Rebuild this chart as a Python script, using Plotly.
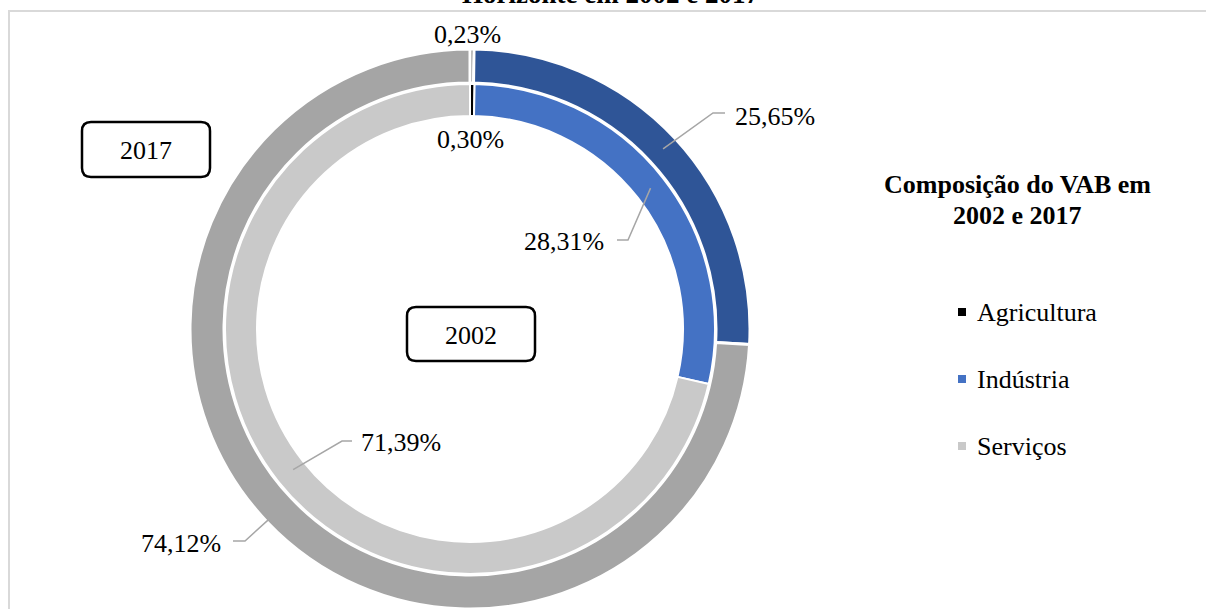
import plotly.graph_objects as go

# Figure size in pixels
W, H = 1206, 609

# ---- data ----
sectors = ["Agricultura", "Indústria", "Serviços"]
share_2002 = [0.30, 28.31, 71.39]   # inner ring
share_2017 = [0.23, 25.65, 74.12]   # outer ring

colors_2002 = ["#000000", "#4472C4", "#C9C9C9"]
colors_2017 = ["#000000", "#2F5597", "#A5A5A5"]

FONT = "Liberation Serif, Times New Roman, serif"
LABEL_SIZE = 26


def px(x):
    """pixel x -> paper x"""
    return x / W


def py(y):
    """pixel y (from top) -> paper y"""
    return 1 - y / H


# ring geometry (pixels)
CX, CY = 470, 329
R_OUT, HOLE_OUT = 280, 246
R_IN, HOLE_IN = 245, 213


def fmt(v):
    return f"{v:.2f}%".replace(".", ",")


fig = go.Figure()

fig.add_trace(go.Pie(
    labels=sectors, values=share_2017, name="2017",
    sort=False, direction="clockwise", rotation=0,
    hole=HOLE_OUT / R_OUT,
    marker=dict(colors=colors_2017, line=dict(color="white", width=3)),
    textinfo="none", hoverinfo="label+percent",
    domain=dict(x=[px(CX - R_OUT), px(CX + R_OUT)],
                y=[py(CY + R_OUT), py(CY - R_OUT)]),
    showlegend=False,
))

fig.add_trace(go.Pie(
    labels=sectors, values=share_2002, name="2002",
    sort=False, direction="clockwise", rotation=0,
    hole=HOLE_IN / R_IN,
    marker=dict(colors=colors_2002, line=dict(color="white", width=2)),
    textinfo="none", hoverinfo="label+percent",
    domain=dict(x=[px(CX - R_IN), px(CX + R_IN)],
                y=[py(CY + R_IN), py(CY - R_IN)]),
    showlegend=False,
))

shapes = []
annotations = []


def mid_point(shares, i, r):
    """point at radius r on the middle of slice i (clockwise from 12 o'clock)"""
    import math
    total = sum(shares)
    start = sum(shares[:i])
    ang = math.radians(360 * (start + shares[i] / 2) / total)
    return CX + r * math.sin(ang), CY - r * math.cos(ang)


# data label placement: (series, slice index) -> leader/text layout in pixels
series = {"2017": share_2017, "2002": share_2002}
label_layout = [
    ("2017", 0, dict(text=(467, 34), anchor="center")),
    ("2002", 0, dict(text=(470, 139), anchor="center")),
    ("2017", 1, dict(r=264, elbow=(713, 113), end=(725, 113), text=(733, 116), anchor="left")),
    ("2002", 1, dict(r=229, elbow=(628, 240), end=(617, 240), text=(606, 242), anchor="right")),
    ("2002", 2, dict(r=226, elbow=(342, 441), end=(352, 441), text=(359, 442), anchor="left")),
    ("2017", 2, dict(r=277, elbow=(245, 541), end=(233, 541), text=(223, 543), anchor="right")),
]

for key, i, lay in label_layout:
    vals = series[key]
    if "r" in lay:
        ax, ay = mid_point(vals, i, lay["r"])
        ex, ey = lay["elbow"]
        hx, hy = lay["end"]
        shapes.append(dict(
            type="path", xref="paper", yref="paper",
            path=f"M {px(ax)},{py(ay)} L {px(ex)},{py(ey)} L {px(hx)},{py(hy)}",
            line=dict(color="#A6A6A6", width=1.5),
        ))
    tx, ty = lay["text"]
    annotations.append(dict(
        x=px(tx), y=py(ty), xref="paper", yref="paper",
        text=fmt(vals[i]), showarrow=False,
        xanchor=lay["anchor"], yanchor="middle",
        font=dict(family=FONT, size=LABEL_SIZE, color="black"),
    ))


def rounded_box(x0, y0, x1, y1, r):
    p = [
        f"M {px(x0 + r)},{py(y0)}",
        f"L {px(x1 - r)},{py(y0)}",
        f"Q {px(x1)},{py(y0)} {px(x1)},{py(y0 + r)}",
        f"L {px(x1)},{py(y1 - r)}",
        f"Q {px(x1)},{py(y1)} {px(x1 - r)},{py(y1)}",
        f"L {px(x0 + r)},{py(y1)}",
        f"Q {px(x0)},{py(y1)} {px(x0)},{py(y1 - r)}",
        f"L {px(x0)},{py(y0 + r)}",
        f"Q {px(x0)},{py(y0)} {px(x0 + r)},{py(y0)}",
        "Z",
    ]
    return dict(type="path", xref="paper", yref="paper", path=" ".join(p),
                line=dict(color="black", width=2.5), fillcolor="white")


# year tags
for label, (x0, y0, x1, y1) in [("2017", (82, 122, 210, 177)),
                                ("2002", (407, 307, 535, 361))]:
    shapes.append(rounded_box(x0, y0, x1, y1, 9))
    annotations.append(dict(
        x=px((x0 + x1) / 2), y=py((y0 + y1) / 2 + 1), xref="paper", yref="paper",
        text=label, showarrow=False, xanchor="center", yanchor="middle",
        font=dict(family=FONT, size=LABEL_SIZE, color="black"),
    ))

# chart-area frame: only the left and top edges fall inside the page
shapes.append(dict(type="path", xref="paper", yref="paper",
                   path=f"M {px(9)},{py(620)} L {px(9)},{py(11)} L {px(1215)},{py(11)}",
                   line=dict(color="#D9D9D9", width=2), layer="below"))

# chart title (last line)
annotations.append(dict(
    x=px(610), y=py(-6), xref="paper", yref="paper",
    text="<b>Horizonte em 2002 e 2017</b>", showarrow=False,
    xanchor="center", yanchor="middle",
    font=dict(family=FONT, size=27, color="black"),
))

# legend block
annotations.append(dict(
    x=px(1017), y=py(185), xref="paper", yref="paper",
    text="<b>Composição do VAB em</b>", showarrow=False,
    xanchor="center", yanchor="middle",
    font=dict(family=FONT, size=LABEL_SIZE, color="black"),
))
annotations.append(dict(
    x=px(1017), y=py(215), xref="paper", yref="paper",
    text="<b>2002 e 2017</b>", showarrow=False,
    xanchor="center", yanchor="middle",
    font=dict(family=FONT, size=LABEL_SIZE, color="black"),
))

legend_y = [312, 379, 446]
for name, color, ly in zip(sectors, colors_2002, legend_y):
    shapes.append(dict(type="rect", xref="paper", yref="paper",
                       x0=px(958), x1=px(966), y0=py(ly + 4), y1=py(ly - 4),
                       line=dict(width=0), fillcolor=color))
    annotations.append(dict(
        x=px(975), y=py(ly), xref="paper", yref="paper",
        text=name, showarrow=False, xanchor="left", yanchor="middle",
        font=dict(family=FONT, size=LABEL_SIZE, color="black"),
    ))

fig.update_layout(
    width=W, height=H,
    margin=dict(l=0, r=0, t=0, b=0),
    paper_bgcolor="white", plot_bgcolor="white",
    showlegend=False,
    shapes=shapes,
    annotations=annotations,
)

fig.write_html("out.html")
